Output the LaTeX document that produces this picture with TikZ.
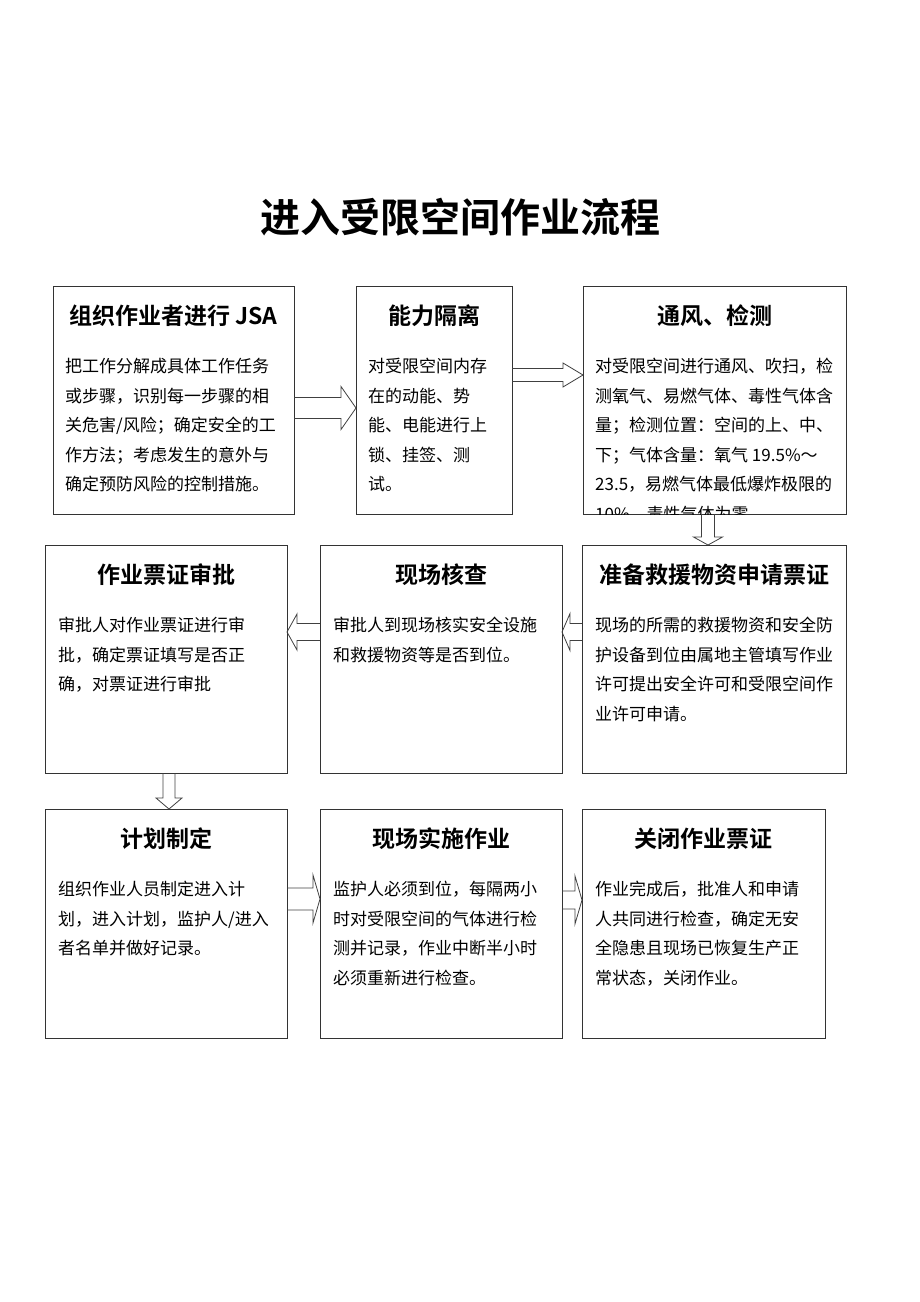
\documentclass[tikz,border=0pt]{standalone}
\usepackage{fontspec}
\setmainfont{Noto Sans CJK SC}[BoldFont={Noto Sans CJK SC Bold}]
\usetikzlibrary{calc}
\newcommand{\hollowarrow}[5]{
	\begin{scope}
	\coordinate (hb) at ($(#2)!#5!(#1)$);
	\draw[arrowline] ($(#1)!#3!90:(#2)$) -- ($(hb)!#3!90:(#2)$) -- ($(hb)!#4!90:(#2)$) -- (#2) -- ($(hb)!#4!-90:(#2)$) -- ($(hb)!#3!-90:(#2)$) -- ($(#1)!#3!-90:(#2)$);
	\end{scope}
}

\begin{document}
\begin{tikzpicture}[x=1pt,y=-1pt,
	box/.style={draw=black!80, line width=1pt, inner sep=0pt, outer sep=0pt, anchor=north west},
	head/.style={font=\fontsize{23}{28}\selectfont\bfseries, inner sep=0pt},
	body/.style={font=\fontsize{17}{29.5}\selectfont, align=left, inner sep=0pt, anchor=north west},
	arrowline/.style={draw=black!75, line width=0.8pt, line join=miter}]
	\useasboundingbox (0,0) rectangle (920,1302);

	\node[font=\fontsize{40}{48}\selectfont\bfseries] (title) at (460,217) {进入受限空间作业流程};

	% first row
	\node[box, minimum width=241pt, minimum height=228pt] (jsa) at (53,286) {};
	\node[box, minimum width=156pt, minimum height=228pt] (iso) at (356,286) {};
	\node[box, minimum width=263pt, minimum height=228pt] (vent) at (583,286) {};
	% second row
	\node[box, minimum width=242pt, minimum height=228pt] (approve) at (45,545) {};
	\node[box, minimum width=242pt, minimum height=228pt] (check) at (320,545) {};
	\node[box, minimum width=264pt, minimum height=228pt] (permit) at (582,545) {};
	% third row
	\node[box, minimum width=242pt, minimum height=229pt] (plan) at (45,809) {};
	\node[box, minimum width=242pt, minimum height=229pt] (work) at (320,809) {};
	\node[box, minimum width=243pt, minimum height=229pt] (close) at (582,809) {};

	\node[head] (jsahead) at ($(jsa.north)+(0,30)$) {组织作业者进行 JSA};
	\node[head] (isohead) at ($(iso.north)+(0,30)$) {能力隔离};
	\node[head] (venthead) at ($(vent.north)+(0,30)$) {通风、检测};
	\node[head] (approvehead) at ($(approve.north)+(0,30)$) {作业票证审批};
	\node[head] (checkhead) at ($(check.north)+(0,30)$) {现场核查};
	\node[head] (permithead) at ($(permit.north)+(0,30)$) {准备救援物资申请票证};
	\node[head] (planhead) at ($(plan.north)+(0,30)$) {计划制定};
	\node[head] (workhead) at ($(work.north)+(0,30)$) {现场实施作业};
	\node[head] (closehead) at ($(close.north)+(0,30)$) {关闭作业票证};

	\node[body] (jsatext) at ($(jsa.north west)+(12,72)$) {把工作分解成具体工作任务\\或步骤，识别每一步骤的相\\关危害/风险；确定安全的工\\作方法；考虑发生的意外与\\确定预防风险的控制措施。};
	\node[body] (isotext) at ($(iso.north west)+(12,72)$) {对受限空间内存\\在的动能、势\\能、电能进行上\\锁、挂签、测\\试。};
	\begin{scope}
	\clip (vent.north west) rectangle (vent.south east);
	\node[body] (venttext) at ($(vent.north west)+(12,72)$) {对受限空间进行通风、吹扫，检\\测氧气、易燃气体、毒性气体含\\量；检测位置：空间的上、中、\\下；气体含量：氧气 19.5\%～\\23.5，易燃气体最低爆炸极限的\\10\%，毒性气体为零};
	\end{scope}
	\node[body] (approvetext) at ($(approve.north west)+(13,72)$) {审批人对作业票证进行审\\批，确定票证填写是否正\\确，对票证进行审批};
	\node[body] (checktext) at ($(check.north west)+(13,72)$) {审批人到现场核实安全设施\\和救援物资等是否到位。};
	\node[body] (permittext) at ($(permit.north west)+(13,72)$) {现场的所需的救援物资和安全防\\护设备到位由属地主管填写作业\\许可提出安全许可和受限空间作\\业许可申请。};
	\node[body] (plantext) at ($(plan.north west)+(13,72)$) {组织作业人员制定进入计\\划，进入计划，监护人/进入\\者名单并做好记录。};
	\node[body] (worktext) at ($(work.north west)+(13,72)$) {监护人必须到位，每隔两小\\时对受限空间的气体进行检\\测并记录，作业中断半小时\\必须重新进行检查。};
	\node[body] (closetext) at ($(close.north west)+(13,72)$) {作业完成后，批准人和申请\\人共同进行检查，确定无安\\全隐患且现场已恢复生产正\\常状态，关闭作业。};

	% arrow ends on the box borders
	\coordinate (jsaout) at (jsa.east |- 0,408);
	\coordinate (isoin) at (iso.west |- 0,408);
	\coordinate (isoout) at (iso.east |- 0,375);
	\coordinate (ventin) at (vent.west |- 0,375);
	\coordinate (ventout) at (vent.south -| 708,0);
	\coordinate (permitin) at (permit.north -| 708,0);
	\coordinate (permitout) at (permit.west |- 0,632);
	\coordinate (checkin) at (check.east |- 0,632);
	\coordinate (checkout) at (check.west |- 0,632);
	\coordinate (approvein) at (approve.east |- 0,632);
	\coordinate (approveout) at (approve.south -| 169,0);
	\coordinate (planin) at (plan.north -| 169,0);
	\coordinate (planout) at (plan.east |- 0,899);
	\coordinate (workin) at (work.west |- 0,899);
	\coordinate (workout) at (work.east |- 0,900);
	\coordinate (closein) at (close.west |- 0,900);

	\hollowarrow{jsaout}{isoin}{10.5pt}{21.5pt}{15pt}
	\hollowarrow{isoout}{ventin}{6.5pt}{12pt}{20pt}
	\hollowarrow{ventout}{permitin}{6.5pt}{14.5pt}{8pt}
	\hollowarrow{permitout}{checkin}{8.5pt}{18.5pt}{8pt}
	\hollowarrow{checkout}{approvein}{8.5pt}{18pt}{10pt}
	\hollowarrow{approveout}{planin}{6pt}{13pt}{11pt}
	\hollowarrow{planout}{workin}{11pt}{24pt}{7pt}
	\hollowarrow{workout}{closein}{9pt}{24pt}{7pt}
\end{tikzpicture}
\end{document}
